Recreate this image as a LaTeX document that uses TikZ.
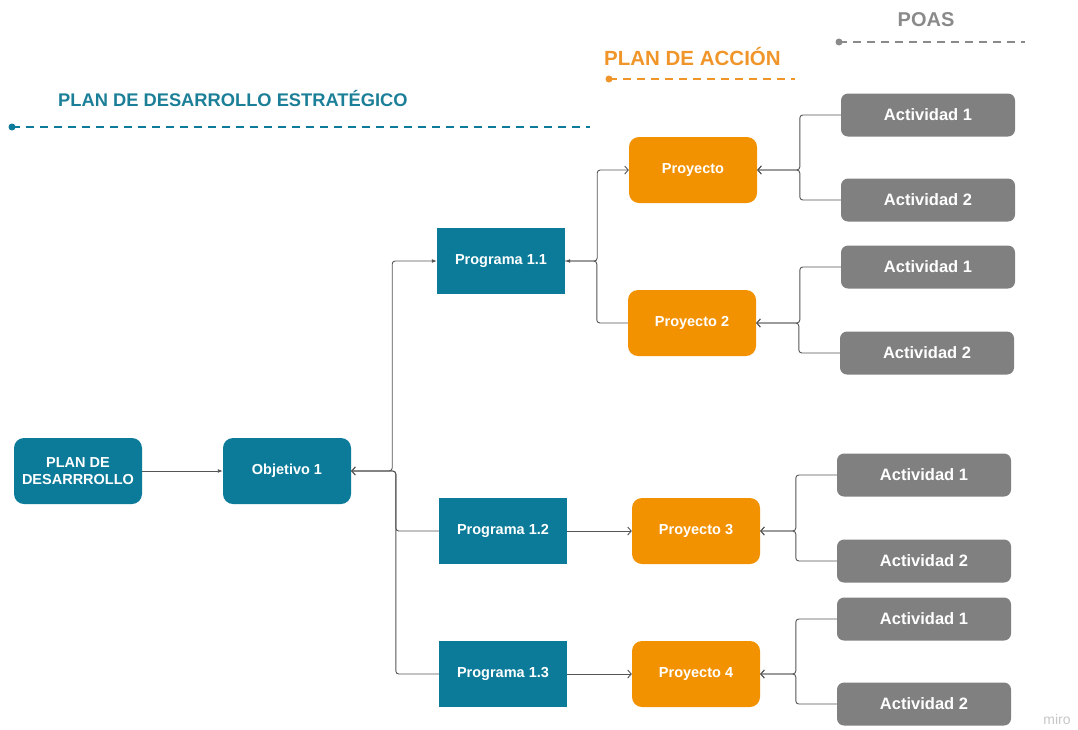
\documentclass[tikz,border=0pt]{standalone}
\usepackage{fontspec}
\setmainfont{Liberation Sans}
\usepackage{xcolor}
\usepackage{tikz}
\usetikzlibrary{arrows.meta}
\definecolor{petrol}{HTML}{0B7B99}
\definecolor{petroltxt}{HTML}{1C7F98}
\definecolor{amber}{HTML}{F39200}
\definecolor{ambertxt}{HTML}{F0952A}
\definecolor{slate}{HTML}{808080}
\definecolor{slatetxt}{HTML}{8A8A8A}
\definecolor{wire}{HTML}{555555}
\tikzset{
  prog/.style={fill=petrol, text=white, font=\bfseries\fontsize{14.5}{16.5}\selectfont,
    minimum width=128pt, minimum height=66pt, inner sep=0pt, align=center},
  plan/.style={prog, rounded corners=10pt},
  proy/.style={plan, fill=amber},
  act/.style={fill=slate, text=white, rounded corners=7pt, inner sep=0pt,
    font=\bfseries\fontsize{16.5}{18}\selectfont, minimum width=174pt, minimum height=43pt},
  link/.style={draw=wire, line width=0.9pt, rounded corners=3pt},
  pin/.style={link, -{Latex[length=5pt,width=4pt]}},
  back/.style={link, -{Straight Barb[length=3.5pt,width=8pt]}},
  rule/.style={line width=2pt, dash pattern=on 8pt off 6pt},
  head/.style={font=\bfseries\fontsize{18.3}{20}\selectfont, anchor=west, inner sep=0pt}
}
\begin{document}
\begin{tikzpicture}[x=1pt, y=-1pt]
  \useasboundingbox (0,0) rectangle (1078,729);

  % headings
  \node[head, text=petroltxt] (hpd) at (58,98) {PLAN DE DESARROLLO ESTRAT\'EGICO};
  \draw[rule, petrol] (12,127) -- (590,127);
  \fill[petrol] (12,127) circle (3.5pt);
  \node[head, text=ambertxt, font=\bfseries\fontsize{20.5}{22}\selectfont] (hpa) at (604,57) {PLAN DE ACCI\'ON};
  \draw[rule, ambertxt] (609,79) -- (795,79);
  \fill[ambertxt] (609,79) circle (3.5pt);
  \node[head, text=slatetxt, font=\bfseries\fontsize{20}{22}\selectfont, anchor=center] (hpoas) at (926,20) {POAS};
  \draw[rule, slatetxt] (839,42) -- (1025,42);
  \fill[slatetxt] (839,42) circle (3.5pt);

  % boxes
  \node[plan] (pd) at (78,471) {PLAN DE\\DESARRROLLO};
  \node[plan] (obj) at (287,471) {Objetivo 1};
  \node[prog] (p11) at (501,261) {Programa 1.1};
  \node[prog] (p12) at (503,531) {Programa 1.2};
  \node[prog] (p13) at (503,674) {Programa 1.3};
  \node[proy] (pr1) at (693,170) {Proyecto};
  \node[proy] (pr2) at (692,323) {Proyecto 2};
  \node[proy] (pr3) at (696,531) {Proyecto 3};
  \node[proy] (pr4) at (696,674) {Proyecto 4};
  \node[act] (a1) at (928,115) {Actividad 1};
  \node[act] (b1) at (928,200) {Actividad 2};
  \node[act] (a2) at (928,267) {Actividad 1};
  \node[act] (b2) at (927,353) {Actividad 2};
  \node[act] (a3) at (924,475) {Actividad 1};
  \node[act] (b3) at (924,561) {Actividad 2};
  \node[act] (a4) at (924,619) {Actividad 1};
  \node[act] (b4) at (924,704) {Actividad 2};

  % connectors
  \draw[pin] (pd) -- (obj);
  \draw[pin] (obj.east) -- ++(41,0) |- (p11.west);
  \draw[back] (p12.west) -- ++(-43,0) |- (obj.east);
  \draw[back] (p13.west) -- ++(-43,0) |- (obj.east);
  \draw[back] (p11.east) -- ++(32,0) |- (pr1.west);
  \draw[pin] (pr2.west) -- ++(-31,0) |- (p11.east);
  \draw[back] (p12) -- (pr3);
  \draw[back] (p13) -- (pr4);
  \foreach \p/\a/\b in {pr1/a1/b1, pr2/a2/b2, pr3/a3/b3, pr4/a4/b4} {
    \draw[back] (\a.west) -- ++(-41,0) |- (\p.east);
    \draw[back] (\b.west) -- ++(-41,0) |- (\p.east);
  }

  \node[text=gray!45, font=\fontsize{14}{15}\selectfont] (miro) at (1057,719) {miro};
\end{tikzpicture}
\end{document}
